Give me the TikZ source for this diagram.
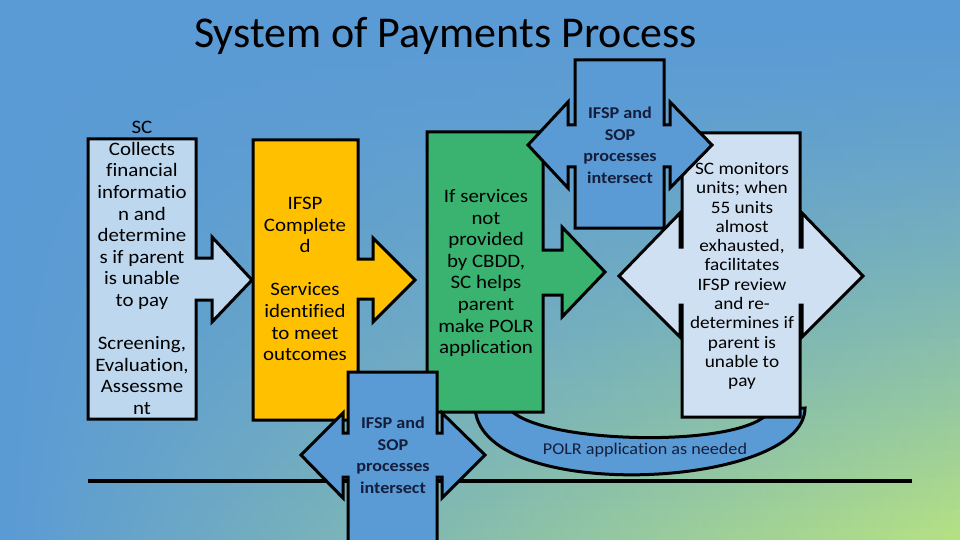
\documentclass[tikz,border=0pt]{standalone}
\usepackage{fontspec}
\setmainfont{Carlito}[Ligatures=NoCommon]
\newfontfamily\wideface{Carlito}[FakeStretch=1.1,Ligatures=NoCommon]
\definecolor{bgB}{RGB}{90,154,213}
\definecolor{bgG}{RGB}{182,226,130}
\definecolor{boxGray}{RGB}{189,215,238}
\definecolor{boxYel}{RGB}{255,192,0}
\definecolor{boxGrn}{RGB}{58,178,112}
\definecolor{boxBlu}{RGB}{91,155,213}
\definecolor{boxLt}{RGB}{207,224,242}
\definecolor{txtNavy}{RGB}{20,30,60}
\begin{document}
\begin{tikzpicture}[x=1pt,y=-1pt,
  shapeline/.style={draw=black,line width=3pt,line join=miter},
  bodytext/.style={align=center,inner sep=0pt,text=black,font=\wideface\fontsize{19}{21.6}\selectfont},
  righttext/.style={align=center,inner sep=0pt,text=black,font=\wideface\fontsize{17.5}{19.3}\selectfont},
  bluetext/.style={align=center,inner sep=0pt,text=txtNavy,font=\wideface\bfseries\fontsize{16.5}{21.5}\selectfont},
  polrtext/.style={inner sep=0pt,text=txtNavy,font=\wideface\fontsize{16.5}{20}\selectfont}]
\useasboundingbox (0,0) rectangle (960,540);
% background gradient
\foreach \i in {0,...,53}{
  \pgfmathtruncatemacro\p{100*((\i+0.5)/54)^1.5}
  \fill[left color=bgB, right color=bgG!\p!bgB] (0,{10*\i-0.5}) rectangle (960,{10*\i+10.5});
}
% horizontal rule
\coordinate (lineL) at (88,481);
\coordinate (lineR) at (912,481);
\draw[line width=4pt] (lineL) -- (lineR);
% curved band
\fill[boxBlu, draw=black, line width=3pt]
  (475,405) .. controls (474,505) and (805,490) .. (805,408)
  -- (770,410) .. controls (750,450) and (525,445) .. (507,405) -- cycle;
% left callout
\draw[shapeline, fill=boxGray]
  (88,139) -- (196,139) -- (196,258) -- (212,258) -- (212,237) -- (252,280)
  -- (212,322) -- (212,300) -- (196,300) -- (196,419) -- (88,419) -- cycle;
% yellow callout
\draw[shapeline, fill=boxYel]
  (253,140) -- (358,140) -- (358,259) -- (373,259) -- (373,238) -- (415,280)
  -- (373,322) -- (373,299) -- (358,299) -- (358,420) -- (253,420) -- cycle;
% green callout
\draw[shapeline, fill=boxGrn]
  (427,132) -- (543,132) -- (543,250) -- (562,250) -- (562,227) -- (605,272)
  -- (562,317) -- (562,295) -- (543,295) -- (543,412) -- (427,412) -- cycle;
% light right callout
\draw[shapeline, fill=boxLt]
  (682,133) -- (800,133) -- (800,247) -- (802,247) -- (802,213) -- (863,276)
  -- (802,337) -- (802,305) -- (800,305) -- (800,417) -- (682,417)
  -- (682,305) -- (680,305) -- (680,337) -- (619,276) -- (680,213) -- (680,247) -- (682,247) -- cycle;
% top blue callout
\draw[shapeline, fill=boxBlu]
  (575,60) -- (664,60) -- (664,125) -- (670,125) -- (670,102) -- (712,145)
  -- (670,188) -- (670,167) -- (664,167) -- (664,228) -- (575,228)
  -- (575,167) -- (568,167) -- (568,188) -- (528,145) -- (568,102) -- (568,125) -- (575,125) -- cycle;
% bottom blue callout
\draw[shapeline, fill=boxBlu]
  (348,372) -- (437,372) -- (437,433) -- (442,433) -- (442,413) -- (485,455)
  -- (442,498) -- (442,477) -- (437,477) -- (437,560) -- (348,560)
  -- (348,477) -- (343,477) -- (343,498) -- (301,455) -- (343,413) -- (343,433) -- (348,433) -- cycle;
% texts
\node[anchor=base, inner sep=0pt, font=\fontsize{44}{50}\selectfont] (title) at (445.5,48) {System of Payments Process};
\node[bodytext] (collect) at (142,268) {SC\\Collects\\financial\\informatio\\n and\\determine\\s if parent\\is unable\\to pay\\[21.6pt]Screening,\\Evaluation,\\Assessme\\nt};
\node[bodytext] (ifsp) at (305,279) {IFSP\\Complete\\d\\[21.6pt]Services\\identified\\to meet\\outcomes};
\node[bodytext] (polrhelp) at (486,273) {If services\\not\\provided\\by CBDD,\\SC helps\\parent\\make POLR\\application};
\node[bluetext] (topx) at (620,145.5) {IFSP and\\SOP\\processes\\intersect};
\node[righttext] (monitor) at (742,276) {SC monitors\\units; when\\55 units\\almost\\exhausted,\\facilitates\\IFSP review\\and re-\\determines if\\parent is\\unable to\\pay};
\node[bluetext] (botx) at (393,455.5) {IFSP and\\SOP\\processes\\intersect};
\node[polrtext] (polr) at (645,450) {POLR application as needed};
\end{tikzpicture}
\end{document}
